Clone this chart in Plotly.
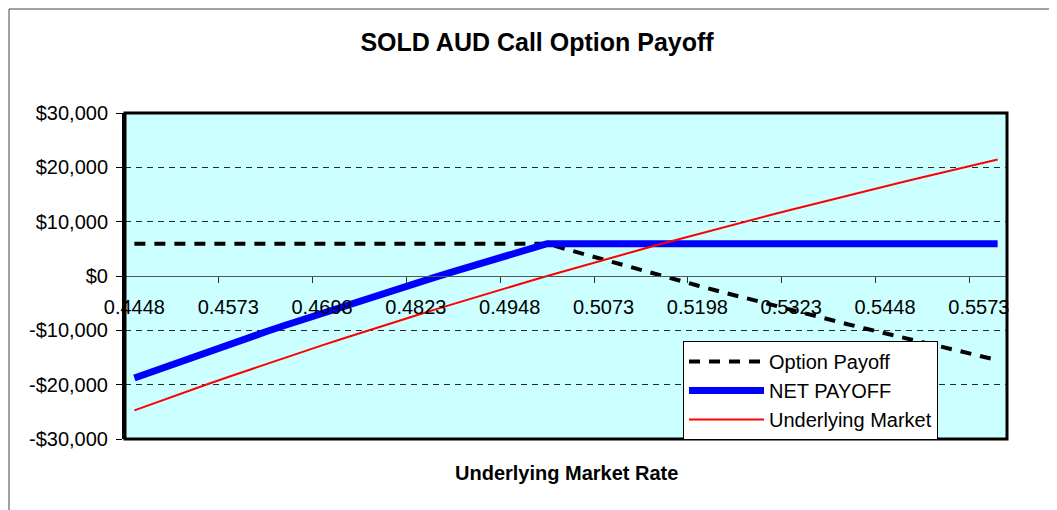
import plotly.graph_objects as go

rates = ["0.4448", "0.4473", "0.4498", "0.4523", "0.4548", "0.4573", "0.4598", "0.4623",
         "0.4648", "0.4673", "0.4698", "0.4723", "0.4748", "0.4773", "0.4798", "0.4823",
         "0.4848", "0.4873", "0.4898", "0.4923", "0.4948", "0.4973", "0.4998", "0.5023",
         "0.5048", "0.5073", "0.5098", "0.5123", "0.5148", "0.5173", "0.5198", "0.5223",
         "0.5248", "0.5273", "0.5298", "0.5323", "0.5348", "0.5373", "0.5398", "0.5423",
         "0.5448", "0.5473", "0.5498", "0.5523", "0.5548", "0.5573", "0.5598"]

option_payoff = [5950, 5950, 5950, 5950, 5950, 5950, 5950, 5950, 5950, 5950, 5950, 5950,
                 5950, 5950, 5950, 5950, 5950, 5950, 5950, 5950, 5950, 5950, 5950, 4950,
                 3970, 2990, 2030, 1070, 120, -820, -1750, -2670, -3580, -4480, -5380,
                 -6260, -7140, -8010, -8870, -9720, -10570, -11410, -12240, -13060,
                 -13880, -14690, -15490]

net_payoff = [-18780, -17520, -16280, -15050, -13840, -12640, -11450, -10270, -9110,
              -7960, -6820, -5700, -4580, -3480, -2390, -1310, -240, 820, 1870, 2900,
              3930, 4940, 5950, 5950, 5950, 5950, 5950, 5950, 5950, 5950, 5950, 5950,
              5950, 5950, 5950, 5950, 5950, 5950, 5950, 5950, 5950, 5950, 5950, 5950,
              5950, 5950, 5950]

underlying = [-24730, -23470, -22230, -21000, -19790, -18590, -17400, -16220, -15060,
              -13910, -12770, -11650, -10530, -9430, -8340, -7260, -6190, -5130, -4080,
              -3050, -2020, -1010, 0, 1000, 1980, 2960, 3920, 4880, 5830, 6770, 7700,
              8620, 9530, 10430, 11330, 12210, 13090, 13960, 14820, 15670, 16520, 17360,
              18190, 19010, 19830, 20640, 21440]

y_tickvals = [-30000, -20000, -10000, 0, 10000, 20000, 30000]
y_ticktext = ["-$30,000", "-$20,000", "-$10,000", "$0", "$10,000", "$20,000", "$30,000"]

FONT = "Liberation Sans, Arial, sans-serif"

fig = go.Figure()
fig.add_trace(go.Scatter(x=rates, y=option_payoff, name="Option Payoff", mode="lines",
                         line=dict(color="black", width=4, dash="11px,9px")))
fig.add_trace(go.Scatter(x=rates, y=net_payoff, name="NET PAYOFF", mode="lines",
                         line=dict(color="#0000FF", width=7)))
fig.add_trace(go.Scatter(x=rates, y=underlying, name="Underlying Market", mode="lines",
                         line=dict(color="#FF0000", width=2)))

# page offset (body margin) compensation
OFF = 8
W, H = 1057, 510
L, T = 125 - OFF, 113 - OFF
pw, ph = 882, 326
R = W - L - pw
B = H - T - ph


def px(X):
    return (X - OFF - L) / pw


def py(Y):
    return (T + ph - (Y - OFF)) / ph


fig.update_layout(
    width=W, height=H,
    margin=dict(l=L, r=R, t=T, b=B),
    paper_bgcolor="white",
    plot_bgcolor="#CCFFFF",
    font=dict(family=FONT, size=20, color="black"),
    showlegend=True,
    legend=dict(x=px(683), y=py(341), xanchor="left", yanchor="top",
                bgcolor="white", bordercolor="black", borderwidth=1,
                font=dict(family=FONT, size=20, color="black"),
                itemwidth=75, tracegroupgap=0),
    title=dict(text="<b>SOLD AUD Call Option Payoff</b>", x=(537 - OFF) / W,
               xanchor="center", y=1 - (42 - OFF) / H, yanchor="middle",
               font=dict(family=FONT, size=25, color="black")),
    xaxis=dict(type="category", range=[-0.5, 46.5], anchor="free", position=0.5,
               showline=True, linecolor="#555555", linewidth=1,
               ticks="outside", ticklen=6, tickcolor="#333333", tickson="boundaries",
               tick0=0, dtick=5, showgrid=False, zeroline=False,
               ticklabelstandoff=13,
               tickfont=dict(family=FONT, size=20, color="black"), tickangle=0),
    yaxis=dict(range=[-30000, 30000], tickvals=y_tickvals, ticktext=y_ticktext,
               ticks="outside", ticklen=6, tickcolor="black",
               showline=True, linecolor="black", linewidth=3,
               showgrid=True, gridcolor="#1e2e2e", gridwidth=1, griddash="6px,5px",
               zeroline=False, ticklabelstandoff=4,
               tickfont=dict(family=FONT, size=20, color="black")),
    shapes=[
        dict(type="rect", xref="paper", yref="paper", x0=0, x1=1, y0=0, y1=1,
             line=dict(color="black", width=3), layer="above"),
        dict(type="line", xref="paper", yref="paper", x0=px(9), x1=px(9),
             y0=py(9), y1=py(530), line=dict(color="#444444", width=1)),
        dict(type="line", xref="paper", yref="paper", x0=px(9), x1=px(1080),
             y0=py(9), y1=py(9), line=dict(color="#444444", width=1)),
    ],
    annotations=[
        dict(text="<b>Underlying Market Rate</b>", xref="paper", yref="paper",
             x=px(566), y=py(473), xanchor="center", yanchor="middle", showarrow=False,
             font=dict(family=FONT, size=20, color="black")),
    ],
)

fig.write_html("out.html")
